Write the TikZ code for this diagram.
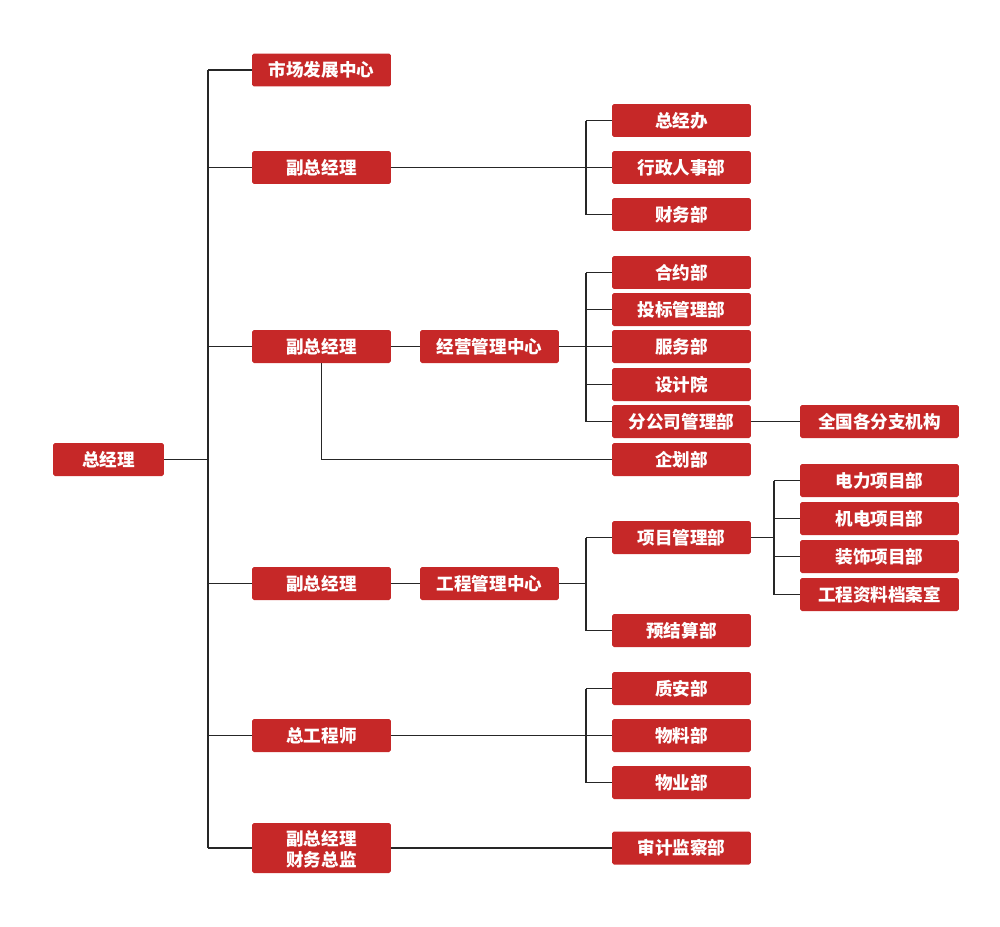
\documentclass[tikz,border=0pt]{standalone}
\usepackage{fontspec}
\newfontfamily\cjk{Noto Sans CJK SC}
\usepackage{tikz}
\usetikzlibrary{positioning}
\definecolor{boxred}{HTML}{C62828}

\begin{document}
\begin{tikzpicture}[x=0.02cm,y=-0.02cm]
  \tikzset{
    box/.style={fill=boxred, text=white, minimum width=2.78cm, minimum height=0.66cm, inner sep=1pt, rounded corners=1pt, align=center, font=\cjk\bfseries\fontsize{10}{12}\selectfont},
    widebox/.style={box, minimum width=3.18cm},
    link/.style={draw=black!85, line width=0.6pt}
  }
  \useasboundingbox (0,0) rectangle (1000,926);

  % - Top ---
  \node[box, minimum width=2.22cm] (ceo) at (108.5,459.5) {总经理};

  % - Level 1 ---
  \node[box] (mkt)   at (321.5,70)    {市场发展中心};
  \node[box] (vp1)   at (321.5,167.5) {副总经理};
  \node[box] (vp2)   at (321.5,346.5) {副总经理};
  \node[box] (vp3)   at (321.5,583.5) {副总经理};
  \node[box] (chief) at (321.5,735.5) {总工程师};
  \node[box, minimum height=1.0cm, text depth=0pt] (cfo) at (321.5,848) {副总经理\\财务总监};

  % - Level 2 ---
  \node[box] (opc) at (489.5,346.5) {经营管理中心};
  \node[box] (epc) at (489.5,583.5) {工程管理中心};

  % - Level 3 ---
  \node[box] (gm)     at (681.5,120.5) {总经办};
  \node[box] (hr)     at (681.5,167.5) {行政人事部};
  \node[box] (fin)    at (681.5,214.5) {财务部};
  \node[box] (cont)   at (681.5,272.5) {合约部};
  \node[box] (bid)    at (681.5,309.5) {投标管理部};
  \node[box] (serv)   at (681.5,346.5) {服务部};
  \node[box] (design) at (681.5,384.5) {设计院};
  \node[box] (branch) at (681.5,421.5) {分公司管理部};
  \node[box] (plan)   at (681.5,459.5) {企划部};
  \node[box] (pm)     at (681.5,537.5) {项目管理部};
  \node[box] (budget) at (681.5,630.5) {预结算部};
  \node[box] (qs)     at (681.5,688.5) {质安部};
  \node[box] (mat)    at (681.5,735.5) {物料部};
  \node[box] (prop)   at (681.5,782.5) {物业部};
  \node[box] (audit)  at (681.5,848)   {审计监察部};

  % - Level 4 ---
  \node[widebox] (nat)   at (879.5,421.5) {全国各分支机构};
  \node[widebox] (power) at (879.5,480.5) {电力项目部};
  \node[widebox] (mep)   at (879.5,518.5) {机电项目部};
  \node[widebox] (deco)  at (879.5,556.5) {装饰项目部};
  \node[widebox] (arch)  at (879.5,594.5) {工程资料档案室};

  % - Connectors ---
  \coordinate (trunk) at (208,459.5);
  \coordinate (br) at (586,0);
  \coordinate (br2) at (774,0);

  \draw[link] (ceo.east) -- (trunk);
  \draw[link] (trunk |- mkt) -- (trunk |- cfo);
  \foreach \n in {mkt,vp1,vp2,vp3,chief,cfo}
    \draw[link] (trunk |- \n) -- (\n.west);

  \draw[link] (vp1.east) -- (br |- vp1);
  \draw[link] (br |- gm) -- (br |- fin);
  \foreach \n in {gm,hr,fin}
    \draw[link] (br |- \n) -- (\n.west);

  \draw[link] (vp2.east) -- (opc.west);
  \draw[link] (opc.east) -- (br |- opc);
  \draw[link] (br |- cont) -- (br |- branch);
  \foreach \n in {cont,bid,serv,design,branch}
    \draw[link] (br |- \n) -- (\n.west);
  \draw[link] (branch.east) -- (nat.west);
  \draw[link] (vp2.south) |- (plan.west);

  \draw[link] (vp3.east) -- (epc.west);
  \draw[link] (epc.east) -- (br |- epc);
  \draw[link] (br |- pm) -- (br |- budget);
  \foreach \n in {pm,budget}
    \draw[link] (br |- \n) -- (\n.west);
  \draw[link] (pm.east) -- (br2 |- pm);
  \draw[link] (br2 |- power) -- (br2 |- arch);
  \foreach \n in {power,mep,deco,arch}
    \draw[link] (br2 |- \n) -- (\n.west);

  \draw[link] (chief.east) -- (br |- chief);
  \draw[link] (br |- qs) -- (br |- prop);
  \foreach \n in {qs,mat,prop}
    \draw[link] (br |- \n) -- (\n.west);

  \draw[link] (cfo.east) -- (audit.west);

\end{tikzpicture}
\end{document}
